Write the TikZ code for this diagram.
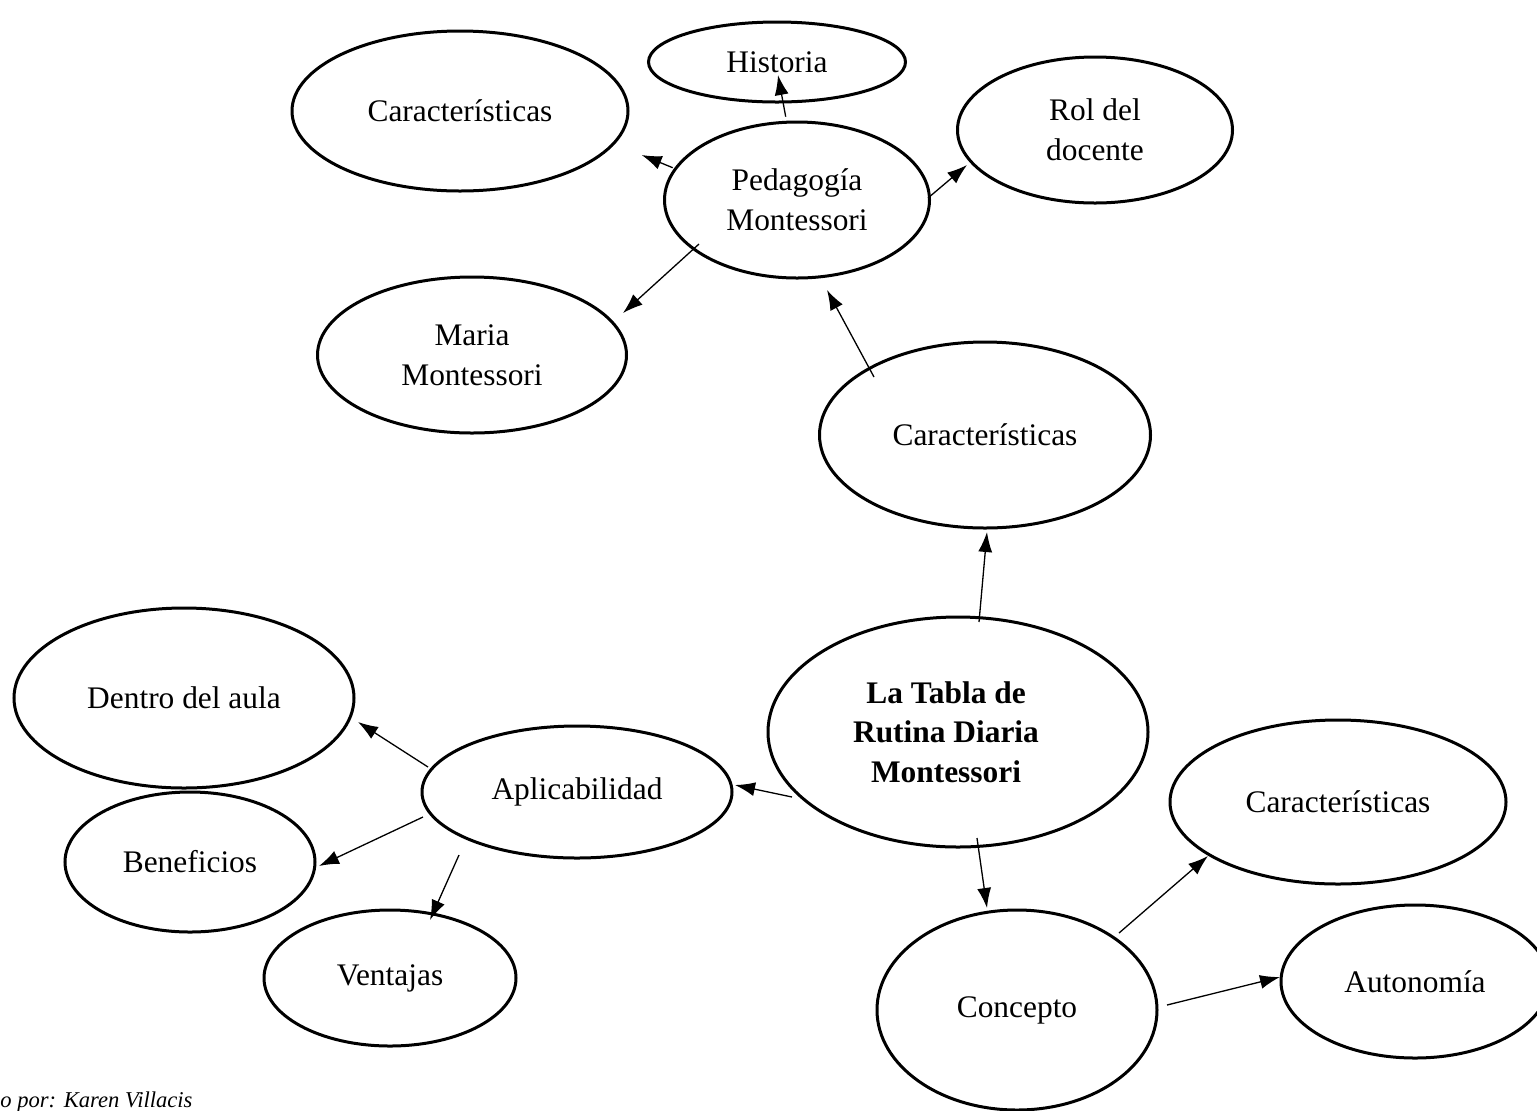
\documentclass[tikz,border=0pt]{standalone}
\usepackage{fontspec}
\setmainfont{Liberation Serif}
\usetikzlibrary{shapes.geometric,arrows.meta}
\begin{document}
\begin{tikzpicture}[x=0.5pt,y=-0.5pt,
 bub/.style={ellipse,draw,line width=1.5pt,inner sep=0pt,align=center,font=\fontsize{15.7}{19.8}\selectfont},
 arr/.style={line width=0.65pt,-{Latex[length=10pt,width=7pt]}}]
\useasboundingbox (0,0) rectangle (1537,1110);
\node[bub,minimum width=128.5pt,minimum height=40pt] (hist) at (777,62) {Historia};
\node[bub,minimum width=168pt,minimum height=80pt] (carA) at (460,111) {Características};
\node[bub,minimum width=137.5pt,minimum height=73pt] (rol) at (1095,130) {Rol del\\docente};
\node[bub,minimum width=132.5pt,minimum height=78pt] (ped) at (797,200) {Pedagogía\\Montessori};
\node[bub,minimum width=154.5pt,minimum height=78pt] (maria) at (472,355) {Maria\\Montessori};
\node[bub,minimum width=165.5pt,minimum height=93pt] (carB) at (985,435) {Características};
\node[bub,minimum width=190pt,minimum height=115pt,font=\fontsize{15.7}{19.8}\selectfont\bfseries] (tabla) at (958,732) {\hspace*{-12pt}La Tabla de\\\hspace*{-12pt}Rutina Diaria\\\hspace*{-12pt}Montessori};
\node[bub,minimum width=170pt,minimum height=90pt] (dentro) at (184,698) {Dentro del aula};
\node[bub,minimum width=155pt,minimum height=66pt] (apli) at (577,792) {Aplicabilidad};
\node[bub,minimum width=125pt,minimum height=70pt] (bene) at (190,862) {Beneficios};
\node[bub,minimum width=126pt,minimum height=68pt] (vent) at (390,978) {Ventajas};
\node[bub,minimum width=168pt,minimum height=82pt] (carC) at (1338,802) {Características};
\node[bub,minimum width=140pt,minimum height=100pt] (conc) at (1017,1010) {Concepto};
\node[bub,minimum width=134pt,minimum height=76.5pt] (auto) at (1415,981.5) {Autonomía};
\node[anchor=base west,inner sep=0pt,font=\fontsize{11.3}{13}\selectfont\itshape] (foot) at (0,1107) {o por: Karen Villacis};
\draw[arr] ([shift={(-11.3,-83.3)}]ped.center) -- ([shift={(1,13)}]hist.center);
\draw[arr] ([shift={(-124.3,-32.3)}]ped.center) -- ([shift={(181.7,44)}]carA.center);
\draw[arr] ([shift={(131,-2)}]ped.center) -- ([shift={(-128,35)}]rol.center);
\draw[arr] ([shift={(-98,44)}]ped.center) -- ([shift={(151,-42)}]maria.center);
\draw[arr] ([shift={(-111,-58)}]carB.center) -- ([shift={(30,90)}]ped.center);
\draw[arr] ([shift={(21,-110)}]tabla.center) -- ([shift={(2,97)}]carB.center);
\draw[arr] ([shift={(-166,65)}]tabla.center) -- ([shift={(158,-7)}]apli.center);
\draw[arr] ([shift={(19,106)}]tabla.center) -- ([shift={(-30,-102)}]conc.center);
\draw[arr] ([shift={(-149,-25)}]apli.center) -- ([shift={(174,24)}]dentro.center);
\draw[arr] ([shift={(-154,25)}]apli.center) -- ([shift={(129,4)}]bene.center);
\draw[arr] ([shift={(-118,63)}]apli.center) -- ([shift={(40,-58)}]vent.center);
\draw[arr] ([shift={(102,-77)}]conc.center) -- ([shift={(-130,54)}]carC.center);
\draw[arr] ([shift={(150,-5)}]conc.center) -- ([shift={(-135,-4.5)}]auto.center);
\end{tikzpicture}
\end{document}
